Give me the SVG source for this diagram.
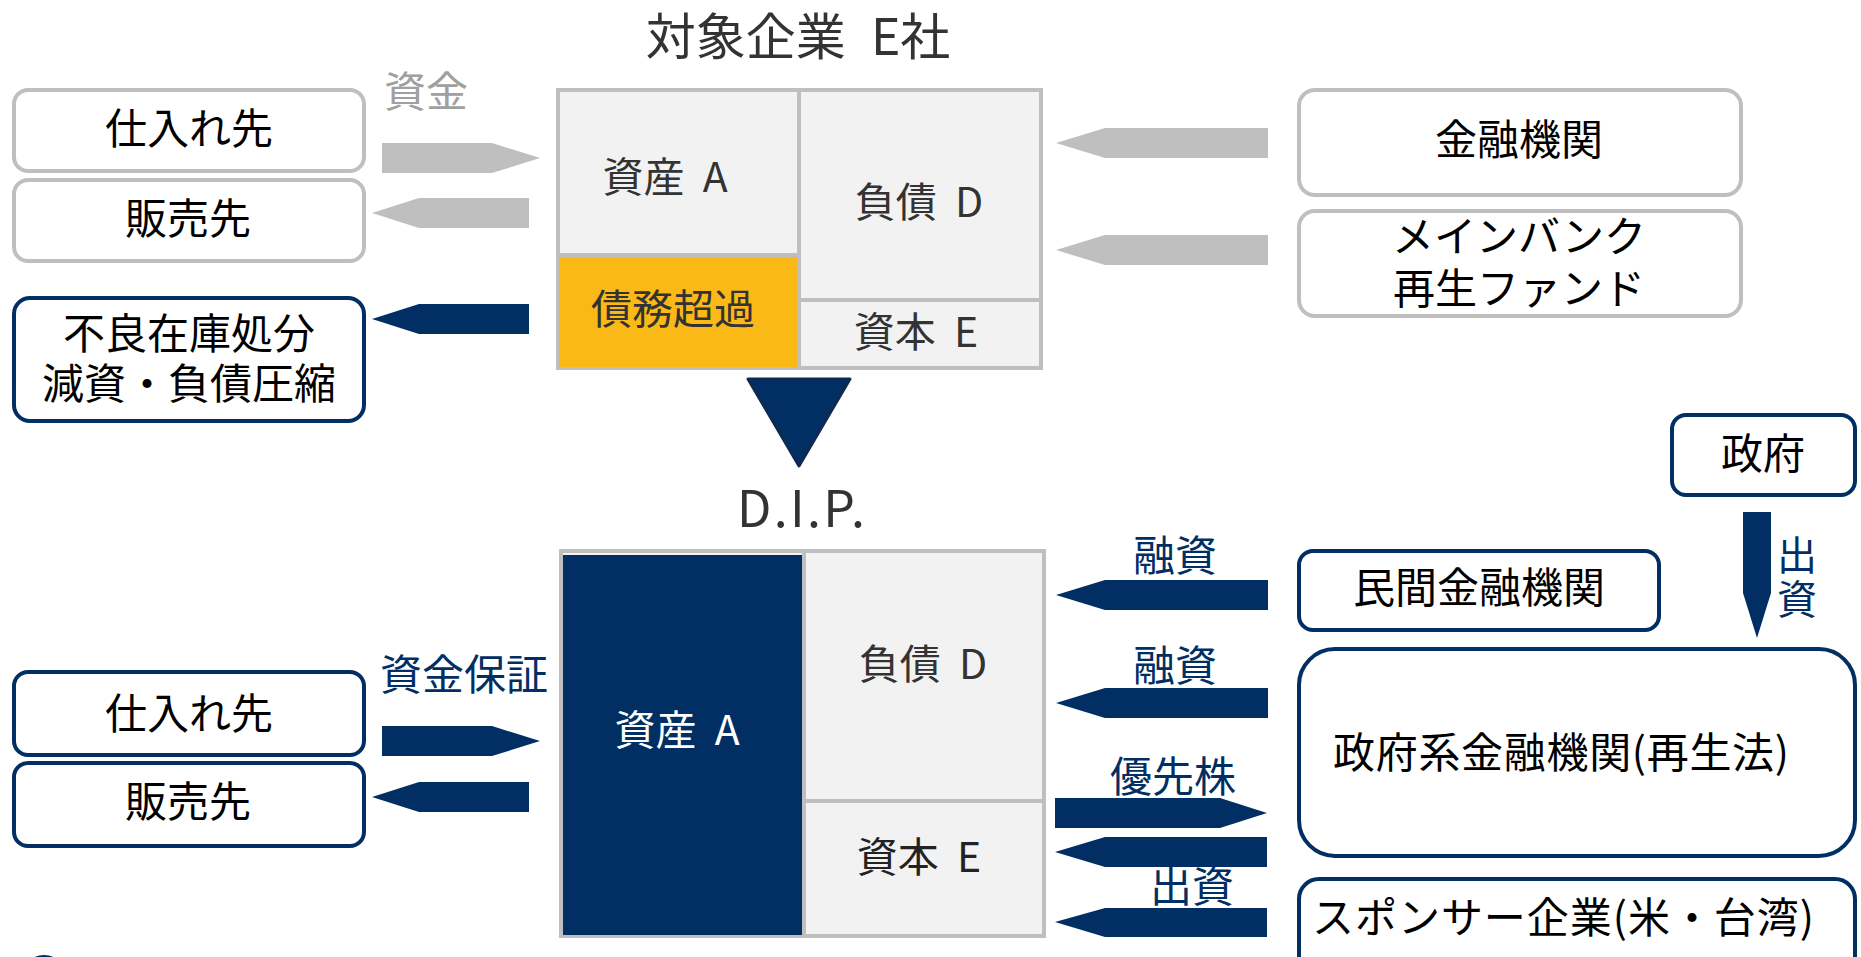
<svg xmlns="http://www.w3.org/2000/svg" width="1861" height="957" viewBox="0 0 1861 957">
<defs>
<style>
text{font-family:"Noto Sans CJK JP","Noto Sans CJK SC",sans-serif;text-anchor:middle}
.lbl{font-size:42px;fill:#000}
.cell{font-size:41px;fill:#333}
.head{font-size:50px;fill:#333}
.nv{font-size:42px;fill:#022F63}
.gt{font-size:42px;fill:#A0A0A0}
.gbox{fill:#fff;stroke:#BFBFBF;stroke-width:4}
.nbox{fill:#fff;stroke:#022F63;stroke-width:4}
.garr{fill:#BFBFBF}
.narr{fill:#022F63}
</style>
</defs>
<rect width="1861" height="957" fill="#fff"/>

<g id="title-top"><text class="head" x="798" y="55">対象企業 <tspan dx="14">E</tspan>社</text></g>
<g id="title-bottom"><text class="head" x="801" y="527" textLength="128" lengthAdjust="spacing">D.I.P.</text></g>

<g id="bs-top">
<rect x="558" y="90" width="483" height="278" fill="#F2F2F2" stroke="#BFBFBF" stroke-width="4"/>
<rect x="559" y="257" width="238" height="110" fill="#FBB917"/>
<line x1="559" y1="255" x2="798" y2="255" stroke="#BFBFBF" stroke-width="4"/>
<line x1="799" y1="92" x2="799" y2="367" stroke="#BFBFBF" stroke-width="4"/>
<line x1="799" y1="300" x2="1041" y2="300" stroke="#BFBFBF" stroke-width="4"/>
<text class="cell" x="665" y="192">資産 <tspan dx="9">A</tspan></text>
<text class="cell" x="919" y="217">負債 <tspan dx="9">D</tspan></text>
<text class="cell" x="673" y="324">債務超過</text>
<text class="cell" x="916" y="347">資本 <tspan dx="9">E</tspan></text>
</g>

<g id="transition"><path d="M748 379 L850 379 L799 466 Z" fill="#022F63" stroke="#0E2A50" stroke-width="3" stroke-linejoin="round"/></g>

<g id="bs-bottom">
<rect x="561" y="551" width="483" height="385" fill="#F2F2F2" stroke="#BFBFBF" stroke-width="4"/>
<rect x="563" y="555" width="239" height="380" fill="#022F63"/>
<line x1="804" y1="553" x2="804" y2="935" stroke="#BFBFBF" stroke-width="4"/>
<line x1="804" y1="801" x2="1043" y2="801" stroke="#BFBFBF" stroke-width="4"/>
<text class="cell" x="677" y="745" style="fill:#fff">資産 <tspan dx="9">A</tspan></text>
<text class="cell" x="923" y="679">負債 <tspan dx="9">D</tspan></text>
<text class="cell" x="919" y="872" style="fill:#222">資本 <tspan dx="9">E</tspan></text>
</g>

<g id="n-shiire-top"><rect class="gbox" x="14" y="90" width="350" height="81" rx="14"/><text class="lbl" x="189" y="144">仕入れ先</text></g>
<g id="n-hanbai-top"><rect class="gbox" x="14" y="180" width="350" height="81" rx="14"/><text class="lbl" x="188" y="234">販売先</text></g>
<g id="n-furyo"><rect class="nbox" x="14" y="298" width="350" height="123" rx="16"/><text class="lbl" x="189" y="349">不良在庫処分<tspan x="189" dy="50">減資・負債圧縮</tspan></text></g>
<g id="n-kinyu"><rect class="gbox" x="1299" y="90" width="442" height="105" rx="16"/><text class="lbl" x="1519" y="155">金融機関</text></g>
<g id="n-mainbank"><rect class="gbox" x="1299" y="211" width="442" height="105" rx="16"/><text class="lbl" x="1519" y="252">メインバンク<tspan x="1519" dy="52">再生ファンド</tspan></text></g>

<g id="n-seifu"><rect class="nbox" x="1672" y="415" width="183" height="80" rx="14"/><text class="lbl" x="1763" y="469">政府</text></g>
<g id="n-minkan"><rect class="nbox" x="1299" y="551" width="360" height="79" rx="14"/><text class="lbl" x="1479" y="603">民間金融機関</text></g>
<g id="n-seifukei"><rect class="nbox" x="1299" y="649" width="556" height="207" rx="36"/><text class="lbl" x="1561" y="768" textLength="456" lengthAdjust="spacing">政府系金融機関(再生法)</text></g>
<g id="n-sponsor"><rect class="nbox" x="1299" y="879" width="556" height="110" rx="20"/><text class="lbl" x="1563" y="933" textLength="502" lengthAdjust="spacing">スポンサー企業(米・台湾)</text></g>
<g id="n-shiire-bottom"><rect class="nbox" x="14" y="672" width="350" height="83" rx="14"/><text class="lbl" x="189" y="729">仕入れ先</text></g>
<g id="n-hanbai-bottom"><rect class="nbox" x="14" y="763" width="350" height="83" rx="14"/><text class="lbl" x="188" y="817">販売先</text></g>

<g id="connectors">
<polygon class="garr" points="382,143 492,143 540,158 492,173 382,173"/>
<polygon class="garr" points="372,213 419,198 529,198 529,228 419,228"/>
<polygon class="narr" points="372,319 419,304 529,304 529,334 419,334"/>
<polygon class="garr" points="1056,143 1105,128 1268,128 1268,158 1105,158"/>
<polygon class="garr" points="1056,250 1105,235 1268,235 1268,265 1105,265"/>
<polygon class="narr" points="382,726 492,726 540,741 492,756 382,756"/>
<polygon class="narr" points="372,797 419,782 529,782 529,812 419,812"/>
<polygon class="narr" points="1056,595 1105,580 1268,580 1268,610 1105,610"/>
<polygon class="narr" points="1056,703 1105,688 1268,688 1268,718 1105,718"/>
<polygon class="narr" points="1055,798 1220,798 1267,813 1220,828 1055,828"/>
<polygon class="narr" points="1055,852 1105,837 1267,837 1267,867 1105,867"/>
<polygon class="narr" points="1055,922 1105,908 1267,908 1267,937 1105,937"/>
<polygon class="narr" points="1743,512 1771,512 1771,593 1757,638 1743,593"/>
<text class="gt" x="426" y="107">資金</text>
<text class="nv" x="464" y="690">資金保証</text>
<text class="nv" x="1175" y="571">融資</text>
<text class="nv" x="1175" y="681">融資</text>
<text class="nv" x="1173" y="792">優先株</text>
<text class="nv" x="1192" y="902">出資</text>
<text class="nv" x="1797" y="570" style="font-size:40px">出<tspan x="1797" dy="44">資</tspan></text>
</g>

<circle cx="44" cy="980" r="25" fill="#022F63"/>
</svg>
